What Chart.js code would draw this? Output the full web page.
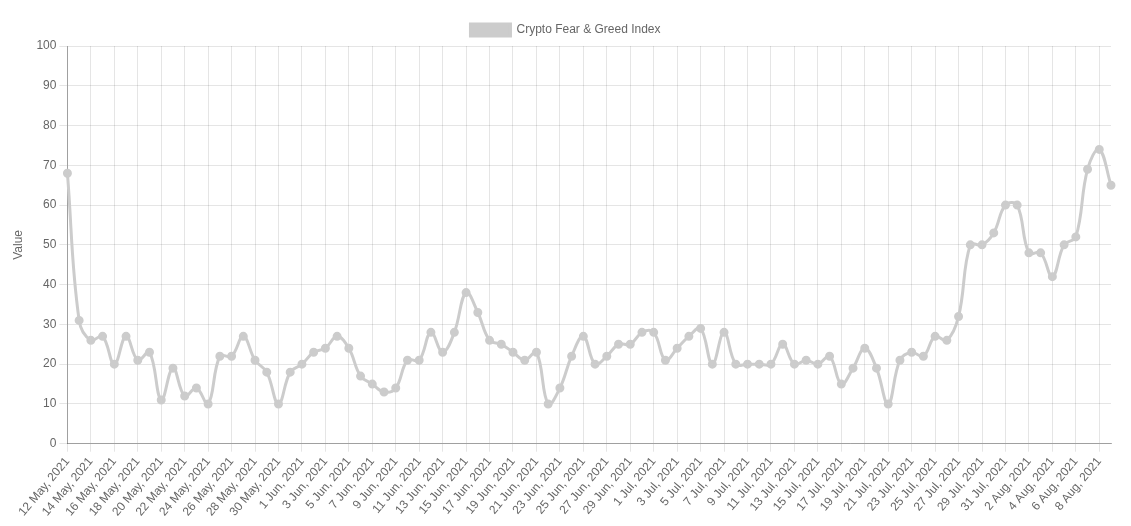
<!DOCTYPE html>
<html>
<head>
<meta charset="utf-8">
<script src="https://cdn.jsdelivr.net/npm/chart.js@4.4.1/dist/chart.umd.min.js"></script>
<style>
  html, body { margin: 0; padding: 0; background: #fff; }
  #wrap { width: 1131px; height: 526px; }
</style>
</head>
<body>
<div id="wrap"><canvas id="chart-fng"></canvas></div>
<script>
// etiquetas diarias, 12 May - 9 Aug 2021
const fechas = [
  '12 May, 2021', '13 May, 2021', '14 May, 2021', '15 May, 2021', '16 May, 2021',
  '17 May, 2021', '18 May, 2021', '19 May, 2021', '20 May, 2021', '21 May, 2021',
  '22 May, 2021', '23 May, 2021', '24 May, 2021', '25 May, 2021', '26 May, 2021',
  '27 May, 2021', '28 May, 2021', '29 May, 2021', '30 May, 2021', '31 May, 2021',
  '1 Jun, 2021', '2 Jun, 2021', '3 Jun, 2021', '4 Jun, 2021', '5 Jun, 2021',
  '6 Jun, 2021', '7 Jun, 2021', '8 Jun, 2021', '9 Jun, 2021', '10 Jun, 2021',
  '11 Jun, 2021', '12 Jun, 2021', '13 Jun, 2021', '14 Jun, 2021', '15 Jun, 2021',
  '16 Jun, 2021', '17 Jun, 2021', '18 Jun, 2021', '19 Jun, 2021', '20 Jun, 2021',
  '21 Jun, 2021', '22 Jun, 2021', '23 Jun, 2021', '24 Jun, 2021', '25 Jun, 2021',
  '26 Jun, 2021', '27 Jun, 2021', '28 Jun, 2021', '29 Jun, 2021', '30 Jun, 2021',
  '1 Jul, 2021', '2 Jul, 2021', '3 Jul, 2021', '4 Jul, 2021', '5 Jul, 2021',
  '6 Jul, 2021', '7 Jul, 2021', '8 Jul, 2021', '9 Jul, 2021', '10 Jul, 2021',
  '11 Jul, 2021', '12 Jul, 2021', '13 Jul, 2021', '14 Jul, 2021', '15 Jul, 2021',
  '16 Jul, 2021', '17 Jul, 2021', '18 Jul, 2021', '19 Jul, 2021', '20 Jul, 2021',
  '21 Jul, 2021', '22 Jul, 2021', '23 Jul, 2021', '24 Jul, 2021', '25 Jul, 2021',
  '26 Jul, 2021', '27 Jul, 2021', '28 Jul, 2021', '29 Jul, 2021', '30 Jul, 2021',
  '31 Jul, 2021', '1 Aug, 2021', '2 Aug, 2021', '3 Aug, 2021', '4 Aug, 2021',
  '5 Aug, 2021', '6 Aug, 2021', '7 Aug, 2021', '8 Aug, 2021', '9 Aug, 2021'
]

const valores = [
  68, 31, 26, 27, 20, 27, 21, 23, 11, 19,
  12, 14, 10, 22, 22, 27, 21, 18, 10, 18,
  20, 23, 24, 27, 24, 17, 15, 13, 14, 21,
  21, 28, 23, 28, 38, 33, 26, 25, 23, 21,
  23, 10, 14, 22, 27, 20, 22, 25, 25, 28,
  28, 21, 24, 27, 29, 20, 28, 20, 20, 20,
  20, 25, 20, 21, 20, 22, 15, 19, 24, 19,
  10, 21, 23, 22, 27, 26, 32, 50, 50, 53,
  60, 60, 48, 48, 42, 50, 52, 69, 74, 65
]

const ctx = document.getElementById('chart-fng').getContext('2d')

new Chart(ctx, {
  type: 'line',
  data: {
    labels: fechas,
    datasets: [
      {
        label: 'Crypto Fear & Greed Index',
        data: valores,
        borderColor: '#cccccc',
        backgroundColor: '#cccccc',
        borderWidth: 3,
        pointRadius: 3,
        tension: 0.4,
        fill: false
      }
    ]
  },
  options: {
    responsive: true,
    maintainAspectRatio: false,
    animation: false,
    layout: {
      padding: { top: 14, right: 7, bottom: 4, left: 7 }
    },
    plugins: {
      legend: {
        position: 'top'
      },
      tooltip: { enabled: false }
    },
    scales: {
      x: {
        grid: { color: 'rgba(0,0,0,0.1)' },
        border: { color: 'rgba(0,0,0,0.3)' },
        ticks: { maxRotation: 50, minRotation: 50 }
      },
      y: {
        min: 0,
        max: 100,
        ticks: { stepSize: 10 },
        grid: { color: 'rgba(0,0,0,0.1)' },
        border: { color: 'rgba(0,0,0,0.3)' },
        title: {
          display: true,
          text: 'Value',
          padding: { top: 4, bottom: 8 }
        }
      },
      // eje vacío a la derecha, solo para dejar margen
      margen: {
        position: 'right',
        grid: { display: false },
        border: { display: false },
        ticks: { display: false },
        afterFit: (escala) => { escala.width = 13 }
      }
    }
  }
})
</script>
</body>
</html>
